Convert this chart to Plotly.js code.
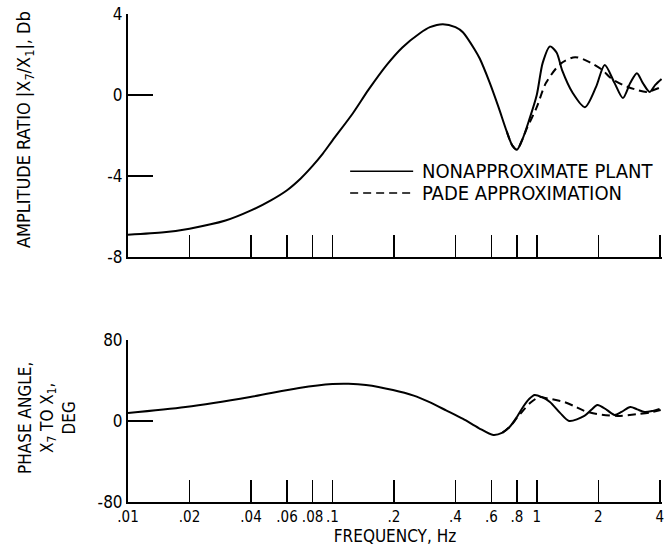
<!DOCTYPE html>
<html>
<head>
<meta charset="utf-8">
<script src="https://cdn.plot.ly/plotly-3.0.1.min.js"></script>
<style>html,body{margin:0;padding:0;background:#fff;}</style>
</head>
<body>
<div id="chart" style="width:672px;height:552px;"></div>
<script>
// Frequency ticks (Hz)
const tickFreqs = [0.01, 0.02, 0.04, 0.06, 0.08, 0.1, 0.2, 0.4, 0.6, 0.8, 1, 2, 4];
const tickLabels = ['.01', '.02', '.04', '.06', '.08', '.1', '.2', '.4', '.6', '.8', '1', '2', '4'];

// Amplitude ratio, nonapproximate plant (dB)
const ampFreq = [0.01,0.015,0.02,0.03,0.04,0.05,0.06,0.07,0.08,0.09,0.1,0.126,0.15,0.185,0.22,0.268,0.3,0.347,0.4,0.435,0.5,0.526,0.589,0.65,0.713,0.76,0.8,0.85,0.92,1.0,1.07,1.16,1.25,1.33,1.5,1.72,1.95,2.15,2.4,2.64,2.87,3.09,3.3,3.57,3.8,4.08];
const ampPlant = [-6.9,-6.78,-6.6,-6.2,-5.7,-5.2,-4.7,-4.12,-3.5,-2.88,-2.25,-0.9,0.25,1.5,2.35,3.05,3.35,3.5,3.35,3.1,2.2,1.8,0.6,-0.6,-1.8,-2.5,-2.7,-2.2,-1.2,0.0,1.6,2.4,2.1,1.23,0.1,-0.6,0.4,1.48,0.6,-0.15,0.6,1.08,0.6,0.15,0.5,0.79];

// Amplitude ratio, Pade approximation (dB)
const ampPadeFreq = [0.713,0.76,0.8,0.85,0.89,1.0,1.11,1.31,1.54,1.83,2.1,2.3,2.64,3.09,3.45,4.08];
const ampPade = [-1.8,-2.5,-2.7,-2.2,-1.7,-0.6,0.6,1.55,1.87,1.6,1.23,0.84,0.5,0.25,0.15,0.4];

// Phase angle, nonapproximate plant (deg)
const phaseFreq = [0.01,0.0191,0.0396,0.0687,0.1,0.12,0.146,0.198,0.25,0.297,0.36,0.436,0.52,0.613,0.68,0.736,0.8,0.863,0.92,0.977,1.06,1.16,1.3,1.44,1.71,1.85,1.98,2.2,2.4,2.6,2.87,3.1,3.37,3.7,3.99];
const phasePlant = [7.9,13.8,23.7,32.6,36.5,36.8,35.6,30.6,25,18.8,10.5,2,-7,-13.8,-11.5,-6,4,14.8,22,25.7,23.5,18.8,8,0,5,11,15.8,11,6,9,13.8,11.5,8.9,10,11.8];

// Phase angle, Pade approximation (deg)
const phasePadeFreq = [0.68,0.736,0.8,0.863,0.93,1.0,1.035,1.15,1.36,1.55,1.71,1.98,2.48,3.11,3.6,4.04];
const phasePade = [-11.5,-6,3,11,18,22.5,23.7,22,18.8,14,9.9,6.9,5,6.9,8.5,10.9];

const FONT = 'Liberation Sans Narrow, DejaVu Sans Condensed, Arial Narrow, sans-serif';
const solid = {color: 'black', width: 2, shape: 'spline', smoothing: 0.8};
const dashed = {color: 'black', width: 2, dash: '8px,5px', shape: 'spline', smoothing: 0.8};

const traces = [
  {x: ampFreq, y: ampPlant, xaxis: 'x', yaxis: 'y', mode: 'lines', line: solid, name: 'NONAPPROXIMATE PLANT'},
  {x: ampPadeFreq, y: ampPade, xaxis: 'x', yaxis: 'y', mode: 'lines', line: dashed, name: 'PADE APPROXIMATION'},
  {x: phaseFreq, y: phasePlant, xaxis: 'x2', yaxis: 'y2', mode: 'lines', line: solid, name: 'NONAPPROXIMATE PLANT'},
  {x: phasePadeFreq, y: phasePade, xaxis: 'x2', yaxis: 'y2', mode: 'lines', line: dashed, name: 'PADE APPROXIMATION'}
];

const xBase = {
  type: 'log', range: [-2, Math.log10(4.1)], domain: [0, 1],
  tickvals: tickFreqs, ticktext: tickLabels, tickangle: 0,
  ticks: 'inside', ticklen: 22, tickwidth: 1.5, tickcolor: 'black',
  showline: true, linewidth: 2, linecolor: 'black',
  showgrid: false, zeroline: false, fixedrange: true
};
const yBase = {
  ticks: 'inside', ticklen: 25, tickwidth: 1.5, tickcolor: 'black',
  showline: true, linewidth: 2, linecolor: 'black',
  showgrid: false, zeroline: false, fixedrange: true
};

const layout = {
  width: 672, height: 552,
  margin: {l: 128, r: 10, t: 14, b: 50},
  paper_bgcolor: 'white', plot_bgcolor: 'white',
  showlegend: false,
  font: {family: FONT, size: 17, color: 'black'},
  xaxis: Object.assign({}, xBase, {anchor: 'y', showticklabels: false}),
  yaxis: Object.assign({}, yBase, {anchor: 'x', domain: [0.502, 1], range: [-8, 4],
    tickvals: [-8, -4, 0, 4], ticktext: ['-8', '-4', '0', '4'], tickfont: {family: FONT, size: 17}}),
  xaxis2: Object.assign({}, xBase, {anchor: 'y2', showticklabels: true,
    tickfont: {family: FONT, size: 15},
    title: {text: 'FREQUENCY, Hz', font: {family: FONT, size: 17}, standoff: 0}}),
  yaxis2: Object.assign({}, yBase, {anchor: 'x2', domain: [0, 0.332], range: [-80, 80],
    tickvals: [-80, 0, 80], ticktext: ['-80', '0', '80'], tickfont: {family: FONT, size: 17}}),
  annotations: [
    {text: 'AMPLITUDE RATIO |X<sub>7</sub>/X<sub>1</sub>|, Db', xref: 'paper', yref: 'paper',
     x: -0.193, y: 0.764, xanchor: 'center', yanchor: 'middle', textangle: -90, showarrow: false,
     font: {family: FONT, size: 18}},
    {text: 'PHASE ANGLE,<br>X<sub>7</sub> TO X<sub>1</sub>,<br>DEG', xref: 'paper', yref: 'paper',
     x: -0.152, y: 0.172, xanchor: 'center', yanchor: 'middle', textangle: -90, showarrow: false,
     font: {family: FONT, size: 17}},
    {text: 'NONAPPROXIMATE PLANT', xref: 'paper', yref: 'paper', x: 0.547, y: 0.678,
     xanchor: 'left', yanchor: 'middle', showarrow: false, font: {family: FONT, size: 20}},
    {text: 'PADE APPROXIMATION', xref: 'paper', yref: 'paper', x: 0.547, y: 0.633,
     xanchor: 'left', yanchor: 'middle', showarrow: false, font: {family: FONT, size: 20}}
  ],
  shapes: [
    {type: 'line', xref: 'paper', yref: 'paper', x0: 0.416, x1: 0.534, y0: 0.678, y1: 0.678,
     line: {color: 'black', width: 1.5}},
    {type: 'line', xref: 'paper', yref: 'paper', x0: 0.416, x1: 0.534, y0: 0.633, y1: 0.633,
     line: {color: 'black', width: 1.5, dash: '8px,5px'}}
  ]
};

Plotly.newPlot('chart', traces, layout, {displayModeBar: false, staticPlot: true});
</script>
</body>
</html>
